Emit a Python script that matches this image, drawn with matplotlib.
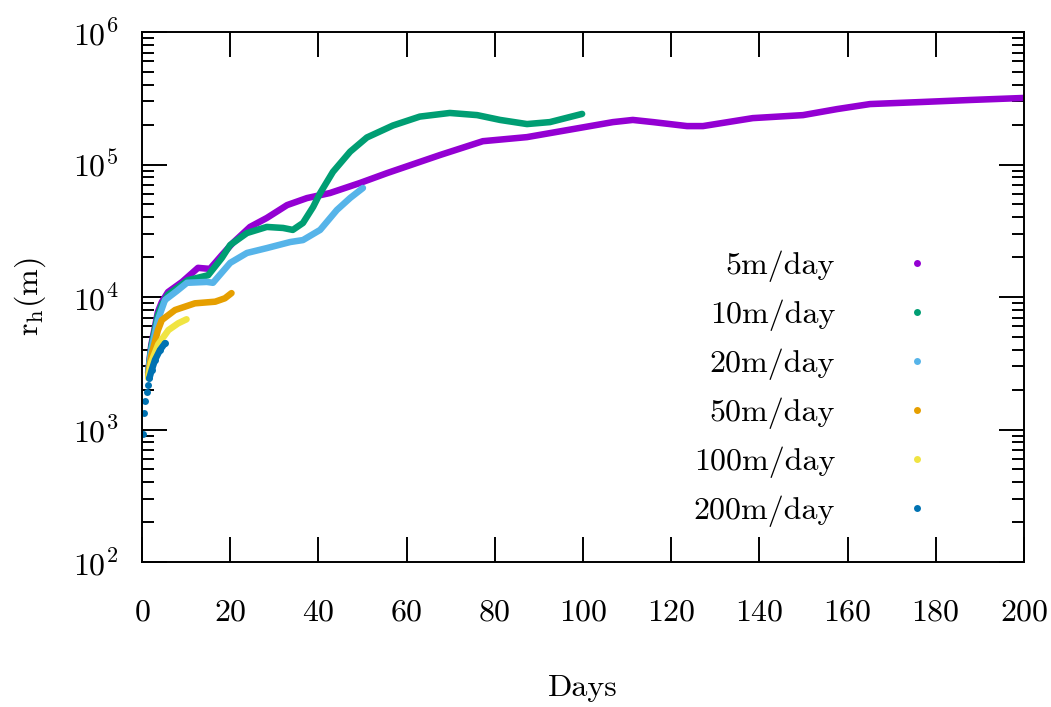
import numpy as np
import matplotlib
matplotlib.use("Agg")
import matplotlib.pyplot as plt
from matplotlib.lines import Line2D
from matplotlib.ticker import FuncFormatter, LogLocator, MultipleLocator

plt.rcParams['font.family'] = 'cmr10'
plt.rcParams['mathtext.fontset'] = 'cm'
plt.rcParams['axes.unicode_minus'] = False
plt.rcParams['axes.formatter.use_mathtext'] = True

# values (days, r_h in metres)
days_5 = [1.4, 2.1, 3.6, 4.5, 5.9, 9.1, 12.7, 15.4, 18.1, 20.6, 24.5, 28.3, 32.9, 37.4, 42.6,
          49.4, 55.6, 67.6, 77.3, 87.3, 97.7, 106.8, 111.3, 115.9, 123.6, 127.2, 138.5, 149.9,
          157.6, 165.1, 176.4, 187.8, 200]
r_5 = [2700, 4330, 7710, 9170, 10900, 13000, 16600, 16300, 20700, 25600, 33800, 39500, 49400,
       55800, 60900, 72500, 86200, 118000, 150000, 161000, 185000, 209000, 217000, 209000,
       195000, 195000, 224000, 236000, 262000, 286000, 296000, 307000, 318000]

days_10 = [1.4, 2.1, 3.6, 4.5, 5.9, 10.4, 15.0, 18.1, 20.0, 23.8, 28.3, 32.0, 34.2, 36.5, 38.8,
           40.4, 43.3, 47.2, 51.0, 56.9, 63.0, 69.8, 76.0, 81.2, 87.3, 92.5, 99.8]
r_10 = [2680, 4200, 7310, 8710, 10400, 13400, 14600, 19700, 24700, 30400, 33800, 33200, 32100,
        36200, 47800, 60900, 88000, 125000, 160000, 197000, 230000, 245000, 236000, 217000,
        202000, 209000, 241000]

days_20 = [1.4, 2.1, 3.6, 5.2, 7.9, 10.2, 14.7, 16.1, 20.0, 23.8, 28.3, 33.6, 36.5, 40.4, 44.2,
           47.2, 50.1]
r_20 = [2650, 3980, 6700, 9480, 11100, 12800, 13000, 12800, 18100, 21500, 23400, 26000, 26900,
        32100, 45400, 55900, 66500]

days_50 = [1.4, 2.1, 3.6, 4.5, 7.5, 12.0, 16.6, 18.8, 20.3]
r_50 = [2550, 3590, 5600, 6700, 7980, 8960, 9220, 9780, 10700]

days_100 = [1.4, 2.1, 3.7, 6.0, 8.2, 10.1]
r_100 = [2450, 3230, 4400, 5630, 6330, 6790]

days_200 = [0.15, 0.52, 0.68, 1.07, 1.29, 1.66, 2.2, 2.95, 4.08, 5.22]
r_200 = [925, 1325, 1650, 1910, 2170, 2430, 2810, 3350, 3980, 4480]

labels = ['5m/day', '10m/day', '20m/day', '50m/day', '100m/day', '200m/day']
colors = ['#9400d3', '#009e73', '#56b4e9', '#e69f00', '#f0e442', '#0072b2']
series = [(days_5, r_5), (days_10, r_10), (days_20, r_20),
          (days_50, r_50), (days_100, r_100), (days_200, r_200)]

fig = plt.figure(figsize=(10.51, 7.07), dpi=100)
ax = fig.add_axes([0.1351, 0.2051, 0.8392, 0.7496])

for i, (d, r) in enumerate(series):
    if i == len(series) - 1:
        # early samples show up as separate dots
        ax.plot(d, r, 'o', color=colors[i], ms=5, mew=0)
        ax.plot(d[5:], r[5:], '-', color=colors[i], lw=4.7, solid_capstyle='round')
    else:
        ax.plot(d, r, '-', color=colors[i], lw=4.7, solid_capstyle='round',
                solid_joinstyle='round')

ax.set_yscale('log')
ax.set_xlim(0, 200)
ax.set_ylim(1e2, 1e6)
ax.xaxis.set_major_locator(MultipleLocator(20))
ax.yaxis.set_major_locator(LogLocator(base=10, numticks=10))
ax.yaxis.set_minor_locator(LogLocator(base=10, subs=np.arange(2, 10), numticks=20))
ax.yaxis.set_minor_formatter(FuncFormatter(lambda v, p: ''))
ax.yaxis.set_major_formatter(FuncFormatter(lambda v, p: r'$10^{%d}$' % round(np.log10(v))))

ax.tick_params(which='both', direction='in', top=True, right=True, width=1.4)
ax.tick_params(which='major', length=18, labelsize=23)
ax.tick_params(which='minor', length=8.5)
ax.tick_params(axis='x', pad=27)
ax.tick_params(axis='y', pad=17)
for s in ax.spines.values():
    s.set_linewidth(1.4)

ax.set_xlabel('Days', fontsize=23)
ax.xaxis.set_label_coords(0.5, -0.213)
ax.set_ylabel(r'$\mathrm{r_h(m)}$', fontsize=23)
ax.yaxis.set_label_coords(-0.107, 0.5)

handles = [Line2D([], [], ls='none', marker='o', ms=5, mew=0, color=c) for c in colors]
leg = ax.legend(handles, labels, loc='center right', bbox_to_anchor=(0.897, 0.327),
                frameon=False, markerfirst=False, fontsize=23, handlelength=1.0,
                handletextpad=2.07, labelspacing=0.55, borderpad=0, borderaxespad=0)
leg._legend_box._children[-1]._children[0].align = 'right'

fig.savefig('out.png', dpi=100)
